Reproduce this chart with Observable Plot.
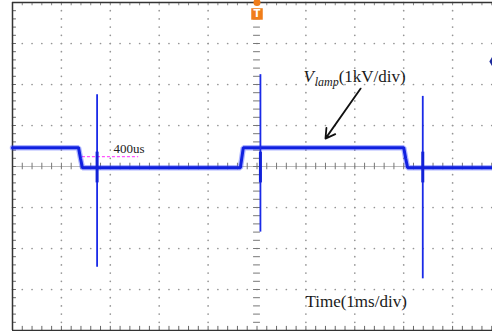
<!DOCTYPE html>
<html>
<head>
<meta charset="utf-8">
<script src="https://cdn.jsdelivr.net/npm/d3@7"></script>
<script src="https://cdn.jsdelivr.net/npm/@observablehq/plot@0.6"></script>
<style>
  html, body { margin: 0; padding: 0; background: #fff; }
  #chart svg { display: block; }
</style>
</head>
<body>
<div id="chart"></div>
<script>
// Trace (time in ms = divisions, voltage in kV = divisions)
const traceTime  = [0.00, 1.35, 1.39, 1.43, 4.66, 4.72, 8.00, 8.04, 8.08, 10.0];
const traceVolts = [0.46, 0.46, 0.20, -0.03, -0.03, 0.46, 0.46, 0.20, -0.03, -0.03];

// Switching spikes
const spikeTime   = [1.73, 5.07, 8.39];
const spikeTop    = [1.75, 2.24, 1.71];
const spikeBottom = [-2.46, -1.60, -2.74];

// Annotations
const labelText = ["400us", "Time(1ms/div)"];
const arrowFrom = [7.12, 1.90];
const arrowTo   = [6.40, 0.68];
const pulseMarkStart = 1.43;
const pulseMarkEnd   = 2.58;
const pulseMarkLevel = 0.24;

const trace = traceTime.map((t, i) => ({t, v: traceVolts[i]}));
const spikes = spikeTime.map((t, i) => ({t, top: spikeTop[i], bottom: spikeBottom[i]}));

// oscilloscope graticule (10 x 8 divisions, 5 minor per division)
const minorX = d3.range(0, 10.001, 0.2).map(d => +d.toFixed(2));
const minorY = d3.range(-4, 4.001, 0.2).map(d => +d.toFixed(2));
const gridDots = [];
for (const gx of [1,2,3,4,6,7,8,9,10]) for (const y of minorY) gridDots.push({x: gx, y});
for (const gy of [-3,-2,-1,1,2,3]) for (const x of minorX) gridDots.push({x, y: gy});

const chart = Plot.plot({
  width: 492,
  height: 331,
  marginLeft: 12,
  marginRight: -9,
  marginTop: 2,
  marginBottom: 1,
  x: {domain: [0, 10], axis: null},
  y: {domain: [-4, 4], axis: null},
  style: {background: "#fff", fontFamily: "'Liberation Serif', 'Times New Roman', serif"},
  marks: [
    // graticule dots
    Plot.dot(gridDots, {x: "x", y: "y", r: 0.85, fill: "#959595", stroke: null}),
    // center crosshair
    Plot.ruleY([0], {stroke: "#a8a8a8", strokeWidth: 0.8}),
    Plot.ruleX(minorX, {x: d => d, y1: -0.08, y2: 0.08, stroke: "#777", strokeWidth: 1}),
    Plot.ruleY(minorY, {y: d => d, x1: 4.93, x2: 5.07, stroke: "#777", strokeWidth: 1}),
    // border ticks
    Plot.ruleY(minorY, {y: d => d, x1: 0, x2: 0.08, stroke: "#666", strokeWidth: 1}),
    Plot.ruleX(minorX, {x: d => d, y1: -4, y2: -3.9, stroke: "#666", strokeWidth: 1}),
    Plot.ruleX(minorX, {x: d => d, y1: 4, y2: 3.92, stroke: "#888", strokeWidth: 1}),
    // borders
    Plot.ruleX([0], {y1: -4, y2: 4, stroke: "#333", strokeWidth: 1.5}),
    Plot.ruleY([4], {stroke: "#333", strokeWidth: 1.3}),
    Plot.ruleY([-4], {stroke: "#333", strokeWidth: 1.5}),
    // pulse width marker
    Plot.ruleY([pulseMarkLevel], {x1: pulseMarkStart, x2: pulseMarkEnd, stroke: "#ff55ff", strokeWidth: 1.2, strokeDasharray: "3,2"}),
    // trace
    Plot.line(trace, {x: "t", y: "v", stroke: "#3344ff", strokeWidth: 5.5, strokeOpacity: 0.4, strokeLinejoin: "miter"}),
    Plot.line(trace, {x: "t", y: "v", stroke: "#1020e0", strokeWidth: 3, strokeLinejoin: "miter"}),
    Plot.ruleX(spikes, {x: "t", y1: "bottom", y2: "top", stroke: "#1a2ae8", strokeWidth: 1.8}),
    Plot.ruleX(spikes, {x: "t", y1: -0.4, y2: 0.35, stroke: "#1222d8", strokeWidth: 3}),
    // trigger marker
    Plot.dot([0], {x: 5, y: 4.0, r: 3.5, fill: "#f07d1a", stroke: null}),
    Plot.dot([0], {x: 5, y: 3.72, symbol: "square", r: 6.5, fill: "#f07d1a", stroke: null}),
    Plot.text(["T"], {x: 5, y: 3.72, fill: "#fff", fontSize: 10, fontWeight: "bold", fontFamily: "'DejaVu Sans', sans-serif"}),
    // level marker
    Plot.dot([0], {x: 9.82, y: 2.56, symbol: "diamond", r: 3.5, fill: "#1c2a9c", stroke: null}),
    // arrow
    Plot.arrow([0], {x1: arrowFrom[0], y1: arrowFrom[1], x2: arrowTo[0], y2: arrowTo[1], stroke: "#111", strokeWidth: 1.8, headLength: 9}),
    // labels
    Plot.text([labelText[0]], {x: 2.065, y: 0.34, textAnchor: "start", lineAnchor: "bottom", fontSize: 13, fill: "#222"}),
    Plot.text(["V"], {x: 5.95, y: 2.05, textAnchor: "start", lineAnchor: "bottom", fontSize: 17, fontStyle: "italic", fill: "#1a1a1a"}),
    Plot.text(["lamp"], {x: 6.18, y: 1.97, textAnchor: "start", lineAnchor: "bottom", fontSize: 12, fontStyle: "italic", fill: "#1a1a1a"}),
    Plot.text(["(1kV/div)"], {x: 6.67, y: 2.05, textAnchor: "start", lineAnchor: "bottom", fontSize: 17, fill: "#1a1a1a"}),
    Plot.text([labelText[1]], {x: 5.99, y: -3.415, textAnchor: "start", lineAnchor: "bottom", fontSize: 17, fill: "#1a1a1a"})
  ]
});
document.getElementById("chart").append(chart);
</script>
</body>
</html>
